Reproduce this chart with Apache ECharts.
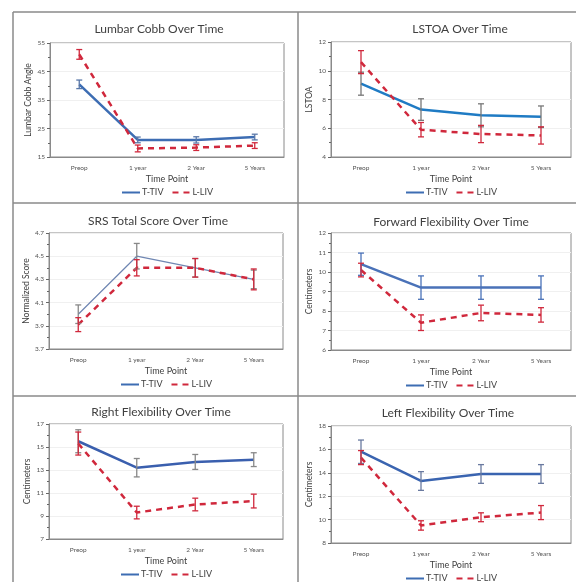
<!DOCTYPE html>
<html><head><meta charset="utf-8">
<script src="https://cdn.jsdelivr.net/npm/echarts@6/dist/echarts.min.js"></script>
<style>html,body{margin:0;padding:0;background:#fff}#c{width:576px;height:582px}</style>
</head><body><div id="c"></div>
<script>
const categories = ['Preop', '1 year', '2 Year', '5 Years'];
const titles = ['Lumbar Cobb Over Time', 'LSTOA Over Time', 'SRS Total Score Over Time', 'Forward Flexibility Over Time', 'Right Flexibility Over Time', 'Left Flexibility Over Time'];
const yNames = ['Lumbar Cobb Angle', 'LSTOA', 'Normalized Score', 'Centimeters', 'Centimeters', 'Centimeters'];
const yMin = [15, 4, 3.7, 6, 7, 8];
const yMax = [55, 12, 4.7, 12, 17, 18];
const yStep = [10, 2, 0.2, 1, 2, 2];

const cobbTIV = [40.5, 21, 21, 22];      const cobbTIVErr = [1.5, 1.0, 1.1, 1.0];
const cobbLIV = [51, 18, 18.3, 19];      const cobbLIVErr = [1.7, 1.2, 1.0, 1.0];
const lstoaTIV = [9.1, 7.3, 6.9, 6.8];   const lstoaTIVErr = [0.8, 0.75, 0.8, 0.75];
const lstoaLIV = [10.6, 5.9, 5.6, 5.5];  const lstoaLIVErr = [0.8, 0.5, 0.6, 0.6];
const srsTIV = [4.0, 4.5, 4.4, 4.3];     const srsTIVErr = [0.08, 0.11, 0.08, 0.08];
const srsLIV = [3.91, 4.4, 4.4, 4.3];    const srsLIVErr = [0.06, 0.07, 0.08, 0.09];
const fwdTIV = [10.4, 9.2, 9.2, 9.2];    const fwdTIVErr = [0.57, 0.6, 0.6, 0.6];
const fwdLIV = [10.1, 7.4, 7.9, 7.8];    const fwdLIVErr = [0.35, 0.4, 0.4, 0.37];
const rightTIV = [15.5, 13.2, 13.7, 13.9]; const rightTIVErr = [1.0, 0.8, 0.65, 0.6];
const rightLIV = [15.3, 9.3, 10.0, 10.3];  const rightLIVErr = [1.0, 0.55, 0.55, 0.6];
const leftTIV = [15.8, 13.3, 13.9, 13.9];  const leftTIVErr = [1.0, 0.8, 0.8, 0.8];
const leftLIV = [15.3, 9.5, 10.2, 10.6];   const leftLIVErr = [0.6, 0.4, 0.38, 0.6];

const tivData = [cobbTIV, lstoaTIV, srsTIV, fwdTIV, rightTIV, leftTIV];
const tivErr = [cobbTIVErr, lstoaTIVErr, srsTIVErr, fwdTIVErr, rightTIVErr, leftTIVErr];
const livData = [cobbLIV, lstoaLIV, srsLIV, fwdLIV, rightLIV, leftLIV];
const livErr = [cobbLIVErr, lstoaLIVErr, srsLIVErr, fwdLIVErr, rightLIVErr, leftLIVErr];

// layout (pixels)
const grids = [
  {left: 50, width: 234, top: 43, height: 114},
  {left: 331, width: 240, top: 42, height: 115},
  {left: 49, width: 234, top: 233, height: 116},
  {left: 331, width: 240, top: 233, height: 117},
  {left: 49, width: 234, top: 424, height: 115},
  {left: 331, width: 240, top: 426, height: 117}
];
const titleX = [154, 455, 153, 446, 156, 443];
const titleY = [18, 18, 210, 211, 401, 402];
const tivColor = ['#3d6db3', '#1f7bc4', '#6f86b2', '#4a72b8', '#3a5fae', '#3a64b0'];
const tivWidth = [2.5, 2.5, 1.2, 2.5, 2.5, 2.5];
const tivErrColor = ['#5a78a8', '#777777', '#888888', '#4a72b8', '#888888', '#6a7aa0'];
const livColor = '#d0283c';
const font = 'Lato, "Open Sans", sans-serif';

function errRender(color) {
  return function (params, api) {
    const x = api.value(0);
    const lo = api.coord([x, api.value(1)]);
    const hi = api.coord([x, api.value(2)]);
    const hw = 3;
    const st = {stroke: color, lineWidth: 1.3};
    return {type: 'group', children: [
      {type: 'line', shape: {x1: lo[0], y1: lo[1], x2: hi[0], y2: hi[1]}, style: st},
      {type: 'line', shape: {x1: lo[0] - hw, y1: lo[1], x2: lo[0] + hw, y2: lo[1]}, style: st},
      {type: 'line', shape: {x1: hi[0] - hw, y1: hi[1], x2: hi[0] + hw, y2: hi[1]}, style: st}
    ]};
  };
}

const option = {
  animation: false,
  textStyle: {fontFamily: font},
  title: [], grid: [], xAxis: [], yAxis: [], series: [], legend: [],
  graphic: [
    {type: 'line', shape: {x1: 13, y1: 12, x2: 576, y2: 12}, style: {stroke: '#8a8a8a', lineWidth: 1.5}},
    {type: 'line', shape: {x1: 13, y1: 12, x2: 13, y2: 582}, style: {stroke: '#8a8a8a', lineWidth: 1.5}},
    {type: 'line', shape: {x1: 298, y1: 12, x2: 298, y2: 582}, style: {stroke: '#8a8a8a', lineWidth: 1.5}},
    {type: 'line', shape: {x1: 13, y1: 203, x2: 576, y2: 203}, style: {stroke: '#8a8a8a', lineWidth: 1.5}},
    {type: 'line', shape: {x1: 13, y1: 396, x2: 576, y2: 396}, style: {stroke: '#8a8a8a', lineWidth: 1.5}}
  ]
};

for (let i = 0; i < 6; i++) {
  const g = grids[i];
  const cx = g.left + g.width / 2;
  option.title.push({text: titles[i], left: titleX[i], top: titleY[i], textAlign: 'center',
    textStyle: {fontFamily: font, fontSize: 12, fontWeight: 'normal', color: '#404040'}});
  option.grid.push({left: g.left, top: g.top, width: g.width, height: g.height,
    show: true, borderColor: '#8a8a8a', borderWidth: 1, backgroundColor: 'transparent'});
  option.xAxis.push({type: 'category', gridIndex: i, data: categories, boundaryGap: true,
    name: 'Time Point', nameLocation: 'middle', nameGap: 18,
    nameTextStyle: {fontFamily: font, fontSize: 9, color: '#404040'},
    axisLine: {lineStyle: {color: '#8a8a8a'}}, axisTick: {show: false},
    axisLabel: {fontSize: 6.5, color: '#555', margin: 7},
    splitLine: {show: false}});
  option.yAxis.push({type: 'value', gridIndex: i, min: yMin[i], max: yMax[i], interval: yStep[i],
    name: yNames[i], nameLocation: 'middle', nameGap: 17,
    nameTextStyle: {fontFamily: font, fontSize: 8.5, color: '#404040'},
    axisLine: {show: true, lineStyle: {color: '#8a8a8a'}},
    axisTick: {show: true, length: 3, lineStyle: {color: '#666'}},
    minorTick: {show: true, splitNumber: 2, length: 2, lineStyle: {color: '#666'}},
    axisLabel: {fontSize: 6.5, color: '#555', margin: 5,
      formatter: v => (yStep[i] < 1 ? Number(v).toFixed(1) : String(Math.round(v)))},
    splitLine: {show: true, lineStyle: {color: '#f0f0f0', width: 1}}});
  option.series.push({name: 'T-TIV', type: 'line', xAxisIndex: i, yAxisIndex: i,
    data: tivData[i], symbol: 'none', showSymbol: false, z: 3,
    lineStyle: {color: tivColor[i], width: tivWidth[i]}, itemStyle: {color: tivColor[i]}});
  option.series.push({name: 'L-LIV', type: 'line', xAxisIndex: i, yAxisIndex: i,
    data: livData[i], symbol: 'none', showSymbol: false, z: 4,
    lineStyle: {color: livColor, width: 2.5, type: [6, 5]}, itemStyle: {color: livColor}});
  option.series.push({name: 'errTIV' + i, type: 'custom', xAxisIndex: i, yAxisIndex: i, z: 5,
    renderItem: errRender(tivErrColor[i]), encode: {x: 0, y: [1, 2]},
    data: tivData[i].map((v, k) => [k, v - tivErr[i][k], v + tivErr[i][k]])});
  option.series.push({name: 'errLIV' + i, type: 'custom', xAxisIndex: i, yAxisIndex: i, z: 6,
    renderItem: errRender(livColor), encode: {x: 0, y: [1, 2]},
    data: livData[i].map((v, k) => [k, v - livErr[i][k], v + livErr[i][k]])});
  option.legend.push({data: ['T-TIV', 'L-LIV'], left: cx - 46, top: g.top + g.height + 31,
    itemWidth: 18, itemHeight: 8, itemGap: 8, padding: 0,
    itemStyle: {opacity: 0},
    textStyle: {fontFamily: font, fontSize: 9, color: '#404040', padding: [0, 0, 0, -3]}});
}

const chart = echarts.init(document.getElementById('c'), null, {renderer: 'canvas'});
chart.setOption(option);
</script></body></html>
